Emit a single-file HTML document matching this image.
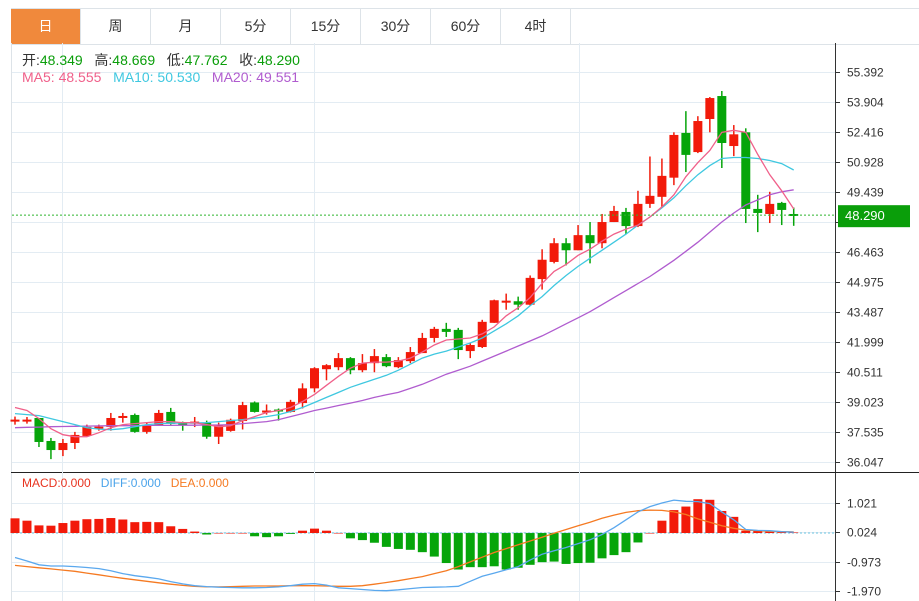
<!DOCTYPE html>
<html><head><meta charset="utf-8"><style>
body{margin:0;width:919px;height:601px;background:#fff;overflow:hidden;font-family:"Liberation Sans","Noto Sans CJK SC",sans-serif}
.tabs{position:absolute;left:11px;top:8px;width:908px;height:35px;border-top:1px solid #dde3e8;border-bottom:1px solid #dde3e8}
.tab{position:absolute;top:0;height:35px;width:69px;border-right:1px solid #dde3e8;line-height:35px;text-align:center;font-size:14px;color:#333}
.tab.on{background:#f0893c;color:#fff}
svg{position:absolute;left:0;top:0}
</style></head><body>
<div class="tabs">
<div class="tab on" style="left:0">日</div>
<div class="tab" style="left:70px">周</div>
<div class="tab" style="left:140px">月</div>
<div class="tab" style="left:210px">5分</div>
<div class="tab" style="left:280px">15分</div>
<div class="tab" style="left:350px">30分</div>
<div class="tab" style="left:420px">60分</div>
<div class="tab" style="left:490px">4时</div>
</div>
<svg id="c" width="919" height="601" style="top:0"></svg>
<script>
const opens=[38.05,38.1,38.23,37.09,36.64,36.99,37.34,37.75,37.79,38.24,38.38,37.54,37.84,38.53,38.0,37.95,37.99,37.3,37.59,38.08,39.0,38.5,38.65,38.53,38.97,39.7,40.65,40.75,41.2,40.6,40.95,41.25,40.75,41.05,41.45,42.2,42.65,42.6,41.55,41.75,42.95,43.95,44.02,43.85,45.12,45.97,46.9,46.55,47.3,46.9,47.95,48.45,47.75,48.85,49.2,50.15,52.37,51.42,53.06,54.2,51.72,52.4,48.6,48.35,48.9,48.349];
const closes=[38.15,38.15,37.04,36.64,36.99,37.39,37.79,37.8,38.23,38.33,37.54,37.89,38.48,37.94,37.95,38.05,37.3,37.89,38.14,38.87,38.53,38.6,38.55,39.03,39.7,40.7,40.85,41.2,40.6,40.95,41.3,40.8,41.1,41.5,42.2,42.65,42.5,41.6,41.85,43.0,44.07,44.05,43.85,45.18,46.08,46.9,46.55,47.3,46.9,47.95,48.5,47.75,48.85,49.25,50.24,52.27,51.28,52.96,54.1,51.87,52.3,48.6,48.4,48.85,48.55,48.29];
const highs=[38.3,38.28,38.23,37.24,37.19,37.54,37.9,37.9,38.48,38.48,38.45,38.0,38.63,38.73,38.05,38.28,38.1,38.0,38.2,39.03,39.05,38.9,38.7,39.13,39.95,40.75,40.9,41.45,41.25,41.4,41.65,41.4,41.25,41.75,42.45,42.75,42.95,42.7,41.95,43.1,44.1,44.4,44.25,45.3,46.6,47.15,47.15,47.8,47.95,48.35,48.75,48.65,49.5,51.2,51.1,52.4,53.45,53.2,54.15,54.45,52.76,52.6,49.3,49.45,48.95,48.669];
const lows=[37.9,37.95,36.79,36.19,36.34,36.69,37.3,37.6,37.6,38.0,37.5,37.45,37.84,37.9,37.6,37.78,37.2,36.94,37.55,37.66,38.5,38.4,38.1,38.5,38.7,39.5,40.1,40.6,40.4,40.5,40.5,40.75,40.7,40.95,41.45,41.98,42.25,41.15,41.2,41.7,42.95,43.6,43.6,43.8,44.6,45.9,45.8,46.55,45.9,46.65,47.95,47.35,47.7,48.65,48.7,49.78,50.43,51.37,52.4,50.63,51.22,47.9,47.45,47.9,47.8,47.762];
const ma5=[38.75,38.6,38.2,37.7,37.4,37.3,37.3,37.5,37.75,37.9,37.95,38.0,38.05,38.05,38.0,38.0,37.9,37.8,37.85,38.1,38.3,38.5,38.6,38.75,39.05,39.4,39.85,40.3,40.7,40.95,41.0,41.0,41.05,41.2,41.5,41.85,42.1,42.15,42.2,42.4,42.75,43.3,43.7,44.2,44.9,45.5,45.85,46.3,46.6,47.0,47.35,47.6,47.8,48.2,48.7,49.3,50.2,50.9,51.5,52.4,52.5,52.4,51.3,50.3,49.5,48.6];
const ma10=[38.45,38.4,38.35,38.2,38.05,37.9,37.75,37.68,37.65,37.7,37.8,37.9,37.95,37.97,37.98,37.98,38.0,38.05,38.1,38.15,38.22,38.3,38.4,38.55,38.75,39.0,39.25,39.5,39.75,39.95,40.15,40.35,40.6,40.9,41.2,41.4,41.55,41.75,41.95,42.2,42.55,42.9,43.3,43.8,44.25,44.8,45.3,45.75,46.15,46.55,46.95,47.35,47.8,48.2,48.65,49.15,49.75,50.3,50.75,51.1,51.15,51.15,51.1,51.0,50.85,50.53];
const ma20=[37.75,37.77,37.78,37.8,37.81,37.82,37.83,37.84,37.85,37.85,37.85,37.86,37.86,37.86,37.87,37.87,37.88,37.88,37.9,37.95,38.0,38.05,38.15,38.3,38.45,38.6,38.72,38.85,38.97,39.1,39.25,39.38,39.5,39.7,39.9,40.15,40.4,40.6,40.8,41.05,41.3,41.55,41.8,42.05,42.3,42.6,42.9,43.2,43.5,43.85,44.2,44.55,44.9,45.25,45.65,46.05,46.5,46.95,47.45,47.95,48.4,48.8,49.05,49.3,49.45,49.55];
const priceTicks=["55.392","53.904","52.416","50.928","49.439","47.951","46.463","44.975","43.487","41.999","40.511","39.023","37.535","36.047"];
const macdHist=[0.5,0.42,0.26,0.25,0.34,0.42,0.47,0.48,0.51,0.46,0.37,0.38,0.37,0.23,0.14,0.05,-0.05,0,0,0,-0.11,-0.14,-0.11,-0.03,0.08,0.15,0.08,0,-0.18,-0.24,-0.33,-0.47,-0.54,-0.57,-0.65,-0.8,-1.02,-1.24,-1.16,-1.16,-1.13,-1.24,-1.18,-1.08,-0.99,-0.97,-1.05,-1.02,-1.01,-0.86,-0.75,-0.65,-0.32,0,0.42,0.78,0.9,1.15,1.13,0.75,0.55,0.08,0.08,0.07,0.03,0.02];
const diff=[-0.83,-0.95,-1.08,-1.12,-1.12,-1.14,-1.17,-1.21,-1.28,-1.38,-1.45,-1.5,-1.56,-1.65,-1.73,-1.79,-1.82,-1.84,-1.85,-1.86,-1.86,-1.85,-1.83,-1.79,-1.74,-1.72,-1.77,-1.86,-1.89,-1.92,-1.95,-1.96,-1.93,-1.89,-1.85,-1.84,-1.83,-1.81,-1.64,-1.47,-1.36,-1.25,-1.14,-0.92,-0.72,-0.6,-0.49,-0.36,-0.23,-0.05,0.18,0.45,0.72,0.9,1.02,1.12,1.08,1.07,1.0,0.72,0.45,0.12,0.09,0.08,0.05,0.03];
const dea=[-1.1,-1.14,-1.18,-1.22,-1.26,-1.3,-1.36,-1.42,-1.48,-1.54,-1.59,-1.64,-1.69,-1.74,-1.78,-1.81,-1.83,-1.83,-1.82,-1.81,-1.8,-1.8,-1.8,-1.79,-1.79,-1.79,-1.8,-1.81,-1.81,-1.79,-1.74,-1.68,-1.62,-1.55,-1.48,-1.38,-1.28,-1.14,-0.98,-0.82,-0.66,-0.53,-0.4,-0.27,-0.14,-0.01,0.12,0.25,0.37,0.5,0.61,0.7,0.76,0.78,0.77,0.72,0.63,0.48,0.37,0.25,0.16,0.1,0.08,0.06,0.05,0.04];
const macdTicks=["1.021","0.024","-0.973","-1.970"];

const svg=document.getElementById('c');const NS='http://www.w3.org/2000/svg';
function mk(t,a,p){const e=document.createElementNS(NS,t);for(const k in a)e.setAttribute(k,a[k]);(p||svg).appendChild(e);return e;}
const X=i=>15+i*11.98;
const pTop=parseFloat(priceTicks[0]),pBot=parseFloat(priceTicks[priceTicks.length-1]);
const Y=v=>72+(pTop-v)*(390/(pTop-pBot));
const mTop=parseFloat(macdTicks[0]),mBot=parseFloat(macdTicks[3]);
const MY=v=>503+(mTop-v)*(88/(mTop-mBot));
const MZ=MY(0);
let e;
e=mk('line',{x1:11.5,y1:43,x2:11.5,y2:601,stroke:'#dde3e8'});

e=mk('line',{x1:835.5,y1:43,x2:835.5,y2:601,stroke:'#333'});

e=mk('line',{x1:11,y1:472.5,x2:919,y2:472.5,stroke:'#222'});

[62.5,314.5,579.5].forEach(x=>{
 e=mk('line',{x1:x,y1:43,x2:x,y2:601,stroke:'#e3ecf3'});
 
});
priceTicks.forEach((t,k)=>{const y=Math.round(Y(parseFloat(t)))+0.5;
 e=mk('line',{x1:12,y1:y,x2:835,y2:y,stroke:'#e3ecf3'});
 
 e=mk('line',{x1:835,y1:y,x2:840,y2:y,stroke:'#333'});
 
 e=mk('text',{x:847,y:y+4,'font-size':12,fill:'#333'});e.textContent=t;
 
});
macdTicks.forEach(t=>{const y=Math.round(MY(parseFloat(t)))+0.5;
 e=mk('line',{x1:12,y1:y,x2:835,y2:y,stroke:'#e3ecf3'});
 
 e=mk('line',{x1:835,y1:y,x2:840,y2:y,stroke:'#333'});
 
 e=mk('text',{x:847,y:y+4,'font-size':12,fill:'#333'});e.textContent=t;
 
});
e=mk('line',{x1:12,y1:MZ,x2:835,y2:MZ,stroke:'#6cc5e0','stroke-dasharray':'2,2'});

opens.forEach((o,i)=>{const c=closes[i];const col=c>=o?'#f21a0a':'#06a50a';const x=X(i);
 e=mk('line',{x1:x,y1:Y(highs[i]),x2:x,y2:Y(lows[i]),stroke:col,'stroke-width':1.5});
 
 const t=Y(Math.max(o,c)),b=Y(Math.min(o,c));
 e=mk('rect',{x:x-4.5,y:t,width:9,height:Math.max(b-t,2),fill:col});
 
});
function line(arr,f,col,name){const d=arr.map((v,i)=>(i?'L':'M')+X(i).toFixed(1)+','+f(v).toFixed(1)).join('');
 const p=mk('path',{d:d,fill:'none',stroke:col,'stroke-width':1.3});
 
 }
line(ma20,Y,'#b05ccf','ma20-line');line(ma10,Y,'#3fc8e0','ma10-line');line(ma5,Y,'#f0608a','ma5-line');
const cy=Y(closes[closes.length-1]);
e=mk('line',{x1:12,y1:cy,x2:835,y2:cy,stroke:'#2fb52f','stroke-dasharray':'2,2'});

e=mk('rect',{x:838,y:cy-10,width:72,height:22,fill:'#0a9e0a'});

e=mk('text',{x:845,y:cy+5,'font-size':13,fill:'#fff'});e.textContent='48.290';

macdHist.forEach((v,i)=>{const y=MY(v);
 e=mk('rect',{x:X(i)-4.5,y:Math.min(y,MZ),width:9,height:Math.max(Math.abs(y-MZ),0.5),fill:v>=0?'#f21a0a':'#06a50a'});
 
});
line(dea,MY,'#f57a22','dea-line');line(diff,MY,'#5aa8ee','diff-line');
</script>
<div style="position:absolute;left:22px;top:50px;font-size:14px;color:#333">开:<span style="color:#0a9e0a">48.349</span>&nbsp;&nbsp;&nbsp;高:<span style="color:#0a9e0a">48.669</span>&nbsp;&nbsp;&nbsp;低:<span style="color:#0a9e0a">47.762</span>&nbsp;&nbsp;&nbsp;收:<span style="color:#0a9e0a">48.290</span></div>
<div style="position:absolute;left:22px;top:69px;font-size:14px"><span style="color:#f0608a">MA5: 48.555</span>&nbsp;&nbsp;&nbsp;<span style="color:#3fc8e0">MA10: 50.530</span>&nbsp;&nbsp;&nbsp;<span style="color:#b05ccf">MA20: 49.551</span></div>
<div style="position:absolute;left:22px;top:476px;font-size:12px"><span style="color:#e8331f">MACD:0.000</span>&nbsp;&nbsp;&nbsp;<span style="color:#4aa3ea">DIFF:0.000</span>&nbsp;&nbsp;&nbsp;<span style="color:#f57a22">DEA:0.000</span></div>
</body></html>
